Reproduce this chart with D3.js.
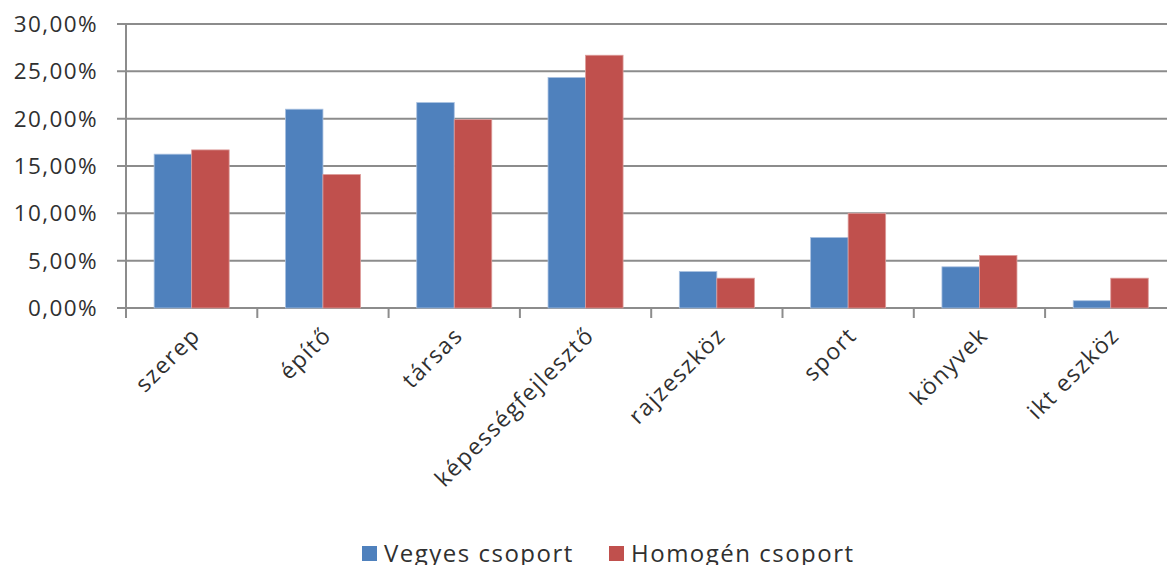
<!DOCTYPE html>
<html>
<head>
<meta charset="utf-8">
<script src="https://cdn.jsdelivr.net/npm/d3@7"></script>
<style>
  body { margin: 0; background: #fff; }
  text { font-family: "Open Sans", sans-serif; fill: #303030; }
</style>
</head>
<body>
<div id="chart"></div>
<script>
// categories and series values (percent)
var categories = ["szerep", "építő", "társas", "képességfejlesztő", "rajzeszköz", "sport", "könyvek", "ikt eszköz"];
var seriesNames = ["Vegyes csoport", "Homogén csoport"];
var vegyes = [16.25, 21.0, 21.7, 24.35, 3.85, 7.45, 4.35, 0.77];
var homogen = [16.7, 14.1, 19.9, 26.7, 3.15, 10.0, 5.55, 3.15];
var colors = ["#4F81BD", "#C0504D"];
var yTicks = [0, 5, 10, 15, 20, 25, 30];

var width = 1167, height = 565;
var margin = {top: 24, left: 126, bottom: 257};

var svg = d3.select("#chart").append("svg")
    .attr("width", width)
    .attr("height", height);

var x = d3.scaleBand()
    .domain(categories)
    .range([margin.left, margin.left + 8 * 131.3])
    .padding(0);

var x1 = d3.scaleBand()
    .domain(seriesNames)
    .range([0, x.bandwidth()])
    .paddingInner(0)
    .paddingOuter(0.75);

var y = d3.scaleLinear()
    .domain([0, 30])
    .range([height - margin.bottom, margin.top]);

// gridlines
svg.append("g")
  .selectAll("line")
  .data(yTicks)
  .enter()
  .append("line")
    .attr("x1", margin.left - 9)
    .attr("x2", width)
    .attr("y1", function(d) { return y(d) })
    .attr("y2", function(d) { return y(d) })
    .attr("stroke", "#8c8c8c")
    .attr("stroke-width", 2);

// y axis labels
var fmt = function(d) { return d3.format(".2f")(d).replace(".", ",") + "%" };
svg.append("g")
  .selectAll("text")
  .data(yTicks)
  .enter()
  .append("text")
    .attr("x", 98)
    .attr("y", function(d) { return y(d) })
    .attr("dy", "0.36em")
    .attr("text-anchor", "end")
    .style("font-size", "22.5px")
    .style("letter-spacing", "1.4px")
    .text(fmt);

// y axis line
svg.append("line")
  .attr("x1", margin.left).attr("x2", margin.left)
  .attr("y1", y(30)).attr("y2", y(0))
  .attr("stroke", "#8c8c8c").attr("stroke-width", 2);

// x ticks
svg.append("g")
  .selectAll("line")
  .data(categories)
  .enter()
  .append("line")
    .attr("x1", function(d) { return x(d) })
    .attr("x2", function(d) { return x(d) })
    .attr("y1", y(0))
    .attr("y2", y(0) + 10)
    .attr("stroke", "#8c8c8c")
    .attr("stroke-width", 2);

// bars
var rows = categories.map(function(c, i) {
  return {cat: c, values: [vegyes[i], homogen[i]]};
});
svg.append("g")
  .selectAll("g")
  .data(rows)
  .enter()
  .append("g")
    .attr("transform", function(d) { return "translate(" + x(d.cat) + ",0)" })
  .selectAll("rect")
  .data(function(d) { return d.values.map(function(v, j) { return {s: seriesNames[j], v: v, j: j} }) })
  .enter()
  .append("rect")
    .attr("x", function(d) { return x1(d.s) })
    .attr("y", function(d) { return y(d.v) })
    .attr("width", x1.bandwidth())
    .attr("height", function(d) { return y(0) - y(d.v) })
    .attr("fill", function(d) { return colors[d.j] })
    .attr("stroke", function(d) { return d.j === 0 ? "#a9c1e0" : "#dc9c9a" })
    .attr("stroke-width", 0.8);

// x labels
svg.append("g")
  .selectAll("text")
  .data(categories)
  .enter()
  .append("text")
    .attr("text-anchor", "end")
    .attr("transform", function(d) {
      var cx = x(d) + x.bandwidth() / 2 + 10;
      return "translate(" + cx + "," + 337 + ") rotate(-45)";
    })
    .style("font-size", "23px")
    .style("letter-spacing", "1.5px")
    .text(function(d) { return d });

// legend
var legendX = [362, 609];
var legend = svg.append("g")
  .selectAll("g")
  .data(seriesNames)
  .enter()
  .append("g")
    .attr("transform", function(d, i) { return "translate(" + legendX[i] + ",546)" });
legend.append("rect")
  .attr("width", 15).attr("height", 15)
  .attr("fill", function(d, i) { return colors[i] });
legend.append("text")
  .attr("x", 22).attr("y", 16)
  .style("font-size", "24px")
  .style("letter-spacing", "1.5px")
  .text(function(d) { return d });
</script>
</body>
</html>
